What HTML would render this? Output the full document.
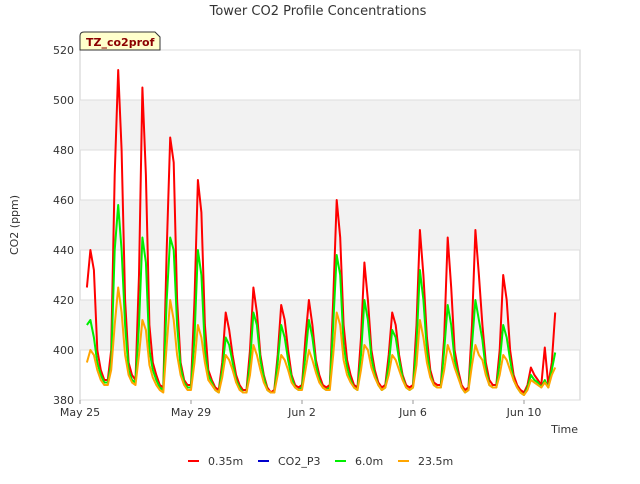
<!DOCTYPE html>
<html><head><meta charset="utf-8"><style>
body{margin:0;background:#fff;font-family:"DejaVu Sans","Liberation Sans",sans-serif;}
svg text{font-family:"DejaVu Sans","Liberation Sans",sans-serif;}
</style></head><body>
<svg id="chart" width="640" height="480" viewBox="0 0 640 480" xmlns="http://www.w3.org/2000/svg">
<rect width="640" height="480" fill="#fff"/>
<text x="318" y="15" font-size="13" fill="#333" text-anchor="middle">Tower CO2 Profile Concentrations</text>
<g id="plot"></g>
<text x="18" y="225" font-size="11" fill="#333" text-anchor="middle" transform="rotate(-90 18 225)">CO2 (ppm)</text>
<text x="578" y="433" font-size="11" fill="#333" text-anchor="end">Time</text>
<g>
<path d="M80,50 L80,36 Q80,32 84,32 L155,32 L160,37 L160,50 Z" fill="#ffffcc" stroke="#333" stroke-width="1"/>
<text x="86" y="46" font-size="11" font-weight="bold" fill="#8b0000">TZ_co2prof</text>
</g>
<g id="legend">
<g><line x1="188" y1="461" x2="199" y2="461" stroke="#ff0000" stroke-width="2"/><text x="208" y="465" font-size="11" fill="#333">0.35m</text></g>
<g><line x1="258" y1="461" x2="269" y2="461" stroke="#0000cc" stroke-width="2"/><text x="278" y="465" font-size="11" fill="#333">CO2_P3</text></g>
<g><line x1="335" y1="461" x2="346" y2="461" stroke="#00ee00" stroke-width="2"/><text x="355" y="465" font-size="11" fill="#333">6.0m</text></g>
<g><line x1="398" y1="461" x2="409" y2="461" stroke="#ffa500" stroke-width="2"/><text x="418" y="465" font-size="11" fill="#333">23.5m</text></g>
</g>
</svg>
<script>
const yTicks=[380,400,420,440,460,480,500,520];
const xTickDays=[0,4,8,12,16];
const xTickLabels=["May 25","May 29","Jun 2","Jun 6","Jun 10"];
const startDay=0.25, stepDay=0.125;
const red=[425,440,432,400,392,388,
388,400,470,512,480,420,395,390,
388,430,505,470,410,395,390,386,
385,440,485,475,420,395,388,386,
386,420,468,455,410,392,388,385,
384,395,415,408,398,390,386,384,
384,400,425,415,398,390,385,383,
384,398,418,412,400,390,386,385,
386,405,420,410,396,390,386,385,
386,420,460,445,410,396,390,386,
385,405,435,420,400,392,387,385,
386,398,415,410,398,390,386,385,
386,410,448,430,405,392,387,386,
386,405,445,425,400,392,386,384,
385,410,448,430,410,395,388,386,
386,400,430,420,400,390,386,384,
383,386,393,390,388,386,401,386,
395,415];
const green=[410,412,405,395,390,387,
387,395,440,458,440,410,392,388,
387,410,445,435,400,392,388,385,
384,420,445,440,410,393,387,385,
385,405,440,430,400,390,387,384,
383,392,405,402,395,388,385,383,
383,395,415,410,396,389,384,383,
383,395,410,405,396,389,385,384,
385,398,412,405,394,388,385,384,
385,410,438,430,402,393,388,385,
384,398,420,412,397,390,386,384,
385,394,408,405,396,389,385,384,
385,402,432,420,400,390,386,385,
385,400,418,410,396,390,385,383,
384,402,420,412,404,392,386,385,
385,395,410,405,396,388,385,383,
382,385,390,388,387,385,388,385,
392,399];
const orange=[395,400,398,392,388,386,
386,392,410,425,415,398,390,387,
386,398,412,408,394,389,386,384,
383,402,420,412,398,390,386,384,
384,395,410,405,395,388,386,384,
383,389,398,396,392,387,384,383,
383,390,402,398,392,387,384,383,
383,390,398,396,392,387,385,384,
384,392,400,396,391,387,385,384,
384,398,415,410,396,390,387,385,
384,392,402,400,393,389,386,384,
385,390,398,396,392,388,385,384,
385,394,412,405,395,389,386,385,
385,392,402,398,393,389,385,383,
384,394,402,398,396,390,386,385,
385,390,398,396,392,388,385,383,
382,384,388,387,386,385,387,385,
390,393];
const NS="http://www.w3.org/2000/svg";
const L=80,R=580,T=50,B=400;
const xs=d=>L+d*27.75;
const ys=v=>B-(v-380)*(B-T)/140;
const plot=document.getElementById('plot');
function mk(tag,attrs){const e=document.createElementNS(NS,tag);for(const k in attrs)e.setAttribute(k,attrs[k]);return e;}
let bg=mk('rect',{x:L,y:T,width:R-L,height:B-T,fill:'#fff',stroke:'#ccc'});


plot.appendChild(bg);
for(let i=0;i<yTicks.length-1;i++){
 if(i%2===1){let b=mk('rect',{x:L,y:ys(yTicks[i+1]),width:R-L,height:ys(yTicks[i])-ys(yTicks[i+1]),fill:'#f2f2f2'});
 
 
 plot.appendChild(b);}
}
yTicks.forEach(v=>{
 let g=mk('line',{x1:L,x2:R,y1:ys(v),y2:ys(v),stroke:'#ddd','stroke-width':1});
 
 
 plot.appendChild(g);
 let t=mk('text',{x:L-6,y:ys(v)+4,'font-size':11,fill:'#333','text-anchor':'end'});
 t.textContent=v;
 
 
 plot.appendChild(t);
});
xTickDays.forEach((d,i)=>{
 let tk=mk('line',{x1:xs(d),x2:xs(d),y1:B,y2:B+4,stroke:'#999'});
 
 
 plot.appendChild(tk);
 let t=mk('text',{x:xs(d),y:B+16,'font-size':11,fill:'#333','text-anchor':'middle'});
 t.textContent=xTickLabels[i];
 
 
 plot.appendChild(t);
});
function drawSeries(arr,color,name){
 const pts=arr.map((v,i)=>xs(startDay+i*stepDay).toFixed(1)+','+ys(v).toFixed(1)).join(' ');
 let p=mk('polyline',{points:pts,fill:'none',stroke:color,'stroke-width':2,'stroke-linejoin':'round'});
 
 
 plot.appendChild(p);
}
drawSeries(red,'#ff0000','series-0.35m');
drawSeries(green,'#00ee00','series-6.0m');
drawSeries(orange,'#ffa500','series-23.5m');
</script>
</body></html>
